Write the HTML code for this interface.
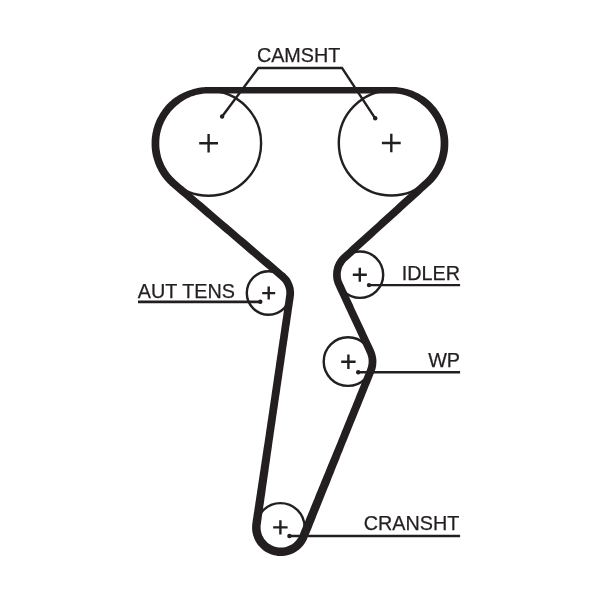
<!DOCTYPE html>
<html><head><meta charset="utf-8"><title>Timing belt diagram</title>
<style>
html,body{margin:0;padding:0;background:#fff;}
body{width:600px;height:589px;overflow:hidden;}
svg{display:block;}
text{font-family:"Liberation Sans",Arial,Helvetica,sans-serif;font-size:19.8px;fill:#231f20;stroke:#231f20;stroke-width:0.25px;}
</style></head><body>
<svg style="will-change:transform" width="600" height="589" viewBox="0 0 600 589">
<rect width="600" height="589" fill="#fff"/>
<g fill="none" stroke="#231f20" stroke-width="2.4">
<circle cx="208.6" cy="143.2" r="52.5"/>
<circle cx="391.3" cy="143.0" r="52.5"/>
<circle cx="360.0" cy="274.7" r="23.2"/>
<circle cx="348.0" cy="361.6" r="24.3"/>
<circle cx="280.4" cy="527.3" r="24.2"/>
<circle cx="268.6" cy="293.0" r="21.8"/>
</g>
<path d="M208.6 87.0L211.6 86.9L214.7 86.9L217.7 86.9L220.7 86.9L223.8 86.9L226.8 86.9L229.9 86.9L232.9 86.9L236.0 86.9L239.0 86.9L242.1 86.9L245.1 86.9L248.2 86.9L251.2 86.9L254.2 86.9L257.3 86.9L260.3 86.9L263.4 86.9L266.4 86.9L269.5 86.9L272.5 86.9L275.6 86.9L278.6 86.9L281.6 86.9L284.7 86.9L287.7 86.9L290.8 86.9L293.8 86.9L296.9 86.9L299.9 86.9L303.0 86.9L306.0 86.9L309.1 86.9L312.1 86.9L315.1 86.9L318.2 86.9L321.2 86.9L324.3 86.9L327.3 86.9L330.4 86.9L333.4 86.9L336.5 86.9L339.5 86.9L342.5 86.9L345.6 86.9L348.6 86.9L351.7 86.9L354.7 86.9L357.8 86.9L360.8 86.9L363.9 86.9L366.9 86.9L370.0 86.9L373.0 86.9L376.0 86.9L379.1 86.9L382.1 86.9L385.2 86.9L388.2 86.9L391.3 86.9L392.9 86.9L394.5 86.9L396.1 87.1L397.6 87.2L399.2 87.4L400.8 87.7L402.4 87.9L403.9 88.3L405.5 88.7L407.0 89.1L408.6 89.6L410.1 90.1L411.6 90.6L413.1 91.1L414.6 91.8L416.0 92.4L417.5 93.1L418.9 93.8L420.3 94.6L421.7 95.4L423.1 96.2L424.4 97.1L425.7 98.0L427.0 99.0L428.3 100.0L429.5 101.1L430.7 102.2L431.8 103.3L432.9 104.5L434.0 105.7L435.1 106.9L436.1 108.1L437.1 109.4L438.0 110.7L438.9 112.1L439.8 113.4L440.6 114.8L441.4 116.2L442.1 117.6L442.9 119.1L443.5 120.5L444.2 122.0L444.7 123.5L445.3 125.0L445.8 126.6L446.2 128.1L446.7 129.7L447.0 131.3L447.3 132.8L447.6 134.4L447.9 136.0L448.0 137.6L448.2 139.2L448.3 140.8L448.3 142.5L448.3 144.1L448.3 145.7L448.2 147.3L448.1 148.9L447.9 150.5L447.7 152.1L447.4 153.7L447.1 155.3L446.7 156.9L446.3 158.4L445.9 160.0L445.4 161.5L444.8 163.0L444.3 164.5L443.6 166.0L443.0 167.5L442.3 168.9L441.5 170.4L440.7 171.8L439.9 173.2L439.0 174.5L438.1 175.9L437.2 177.2L436.2 178.5L435.2 179.7L434.2 181.0L433.1 182.2L432.0 183.3L430.8 184.5L429.6 185.6L427.4 187.6L425.2 189.6L422.9 191.6L420.7 193.7L418.5 195.7L416.2 197.7L414.0 199.7L411.8 201.7L409.5 203.8L407.3 205.8L405.1 207.8L402.9 209.8L400.6 211.9L398.4 213.9L396.2 215.9L393.9 217.9L391.7 220.0L389.5 222.0L387.2 224.0L385.0 226.0L382.8 228.1L380.5 230.1L378.3 232.1L376.1 234.1L373.8 236.2L371.6 238.2L369.4 240.2L367.1 242.2L364.9 244.3L362.7 246.3L360.5 248.3L358.2 250.3L356.0 252.3L353.8 254.4L351.5 256.4L349.3 258.4L347.1 260.4L346.1 261.3L345.3 262.3L344.5 263.3L343.8 264.4L343.1 265.5L342.5 266.6L342.0 267.8L341.6 269.0L341.3 270.3L341.0 271.5L340.8 272.8L340.8 274.1L340.8 275.4L340.9 276.7L341.0 277.9L341.3 279.2L341.6 280.4L342.1 281.6L342.6 282.8L343.9 285.6L345.2 288.4L346.5 291.2L347.8 294.0L349.1 296.7L350.4 299.5L351.7 302.3L353.0 305.1L354.2 307.9L355.5 310.7L356.8 313.4L358.1 316.2L359.4 319.0L360.7 321.8L362.0 324.6L363.3 327.3L364.6 330.1L365.9 332.9L367.2 335.7L368.5 338.5L369.8 341.3L371.1 344.0L372.4 346.8L373.7 349.6L374.4 351.2L375.0 352.9L375.5 354.7L375.9 356.4L376.2 358.2L376.4 360.0L376.4 361.8L376.3 363.6L376.2 365.4L375.9 367.1L375.5 368.9L374.9 370.6L374.3 372.3L373.2 375.1L372.0 377.9L370.9 380.7L369.8 383.5L368.6 386.3L367.5 389.1L366.3 391.9L365.2 394.7L364.1 397.5L362.9 400.4L361.8 403.2L360.7 406.0L359.5 408.8L358.4 411.6L357.2 414.4L356.1 417.2L355.0 420.0L353.8 422.8L352.7 425.6L351.5 428.4L350.4 431.3L349.3 434.1L348.1 436.9L347.0 439.7L345.8 442.5L344.7 445.3L343.6 448.1L342.5 450.9L341.3 453.7L340.2 456.6L339.1 459.4L338.0 462.2L336.8 465.0L335.7 467.8L334.6 470.6L333.5 473.4L332.3 476.3L331.2 479.1L330.1 481.9L329.0 484.7L327.8 487.5L326.7 490.3L325.6 493.1L324.4 495.9L323.3 498.8L322.2 501.6L321.0 504.4L319.9 507.2L318.8 510.0L317.6 512.8L316.5 515.6L315.4 518.4L314.3 521.2L313.1 524.1L312.0 526.9L310.9 529.7L309.7 532.5L308.6 535.3L307.4 538.1L306.7 539.7L305.9 541.3L305.0 542.8L304.0 544.3L302.9 545.7L301.7 547.0L300.5 548.3L299.1 549.4L297.7 550.5L296.3 551.5L294.7 552.4L293.2 553.3L291.5 554.0L289.9 554.6L288.2 555.1L286.4 555.5L284.7 555.8L282.9 556.0L281.2 556.0L279.4 556.0L277.6 555.9L275.9 555.6L274.1 555.3L272.4 554.8L270.7 554.2L269.1 553.6L267.5 552.8L265.9 551.9L264.4 550.9L263.0 549.9L261.7 548.8L260.4 547.5L259.2 546.2L258.0 544.9L257.0 543.4L256.0 541.9L255.2 540.4L254.4 538.8L253.8 537.1L253.2 535.4L252.8 533.7L252.4 532.0L252.2 530.2L252.1 528.4L252.1 526.7L252.2 524.9L252.4 523.1L252.8 520.1L253.3 517.1L253.7 514.1L254.2 511.2L254.6 508.2L255.1 505.2L255.5 502.2L256.0 499.2L256.4 496.2L256.9 493.2L257.3 490.2L257.8 487.2L258.2 484.2L258.7 481.2L259.1 478.2L259.6 475.2L260.0 472.2L260.5 469.2L260.9 466.3L261.4 463.3L261.8 460.3L262.3 457.3L262.7 454.3L263.2 451.3L263.6 448.3L264.1 445.3L264.6 442.3L265.0 439.3L265.5 436.3L265.9 433.3L266.3 430.3L266.8 427.3L267.2 424.3L267.6 421.4L268.1 418.4L268.5 415.4L269.0 412.4L269.4 409.4L269.8 406.4L270.3 403.4L270.7 400.4L271.2 397.4L271.6 394.4L272.0 391.4L272.5 388.4L272.9 385.4L273.4 382.4L273.8 379.4L274.2 376.4L274.7 373.4L275.1 370.4L275.6 367.4L276.0 364.5L276.4 361.5L276.9 358.5L277.3 355.5L277.8 352.5L278.2 349.5L278.6 346.5L279.1 343.5L279.5 340.5L280.0 337.5L280.4 334.5L280.9 331.5L281.3 328.5L281.7 325.5L282.2 322.5L282.6 319.5L283.1 316.5L283.5 313.5L283.9 310.5L284.4 307.6L284.8 304.6L285.3 301.6L285.7 298.6L286.1 295.6L286.3 294.3L286.3 293.0L286.3 291.7L286.2 290.5L285.9 289.2L285.6 288.0L285.2 286.8L284.7 285.6L284.1 284.4L283.5 283.3L282.8 282.3L281.9 281.3L281.1 280.4L280.1 279.5L277.8 277.5L275.5 275.6L273.2 273.6L270.9 271.6L268.6 269.6L266.3 267.7L264.0 265.7L261.6 263.7L259.3 261.7L257.0 259.8L254.7 257.8L252.4 255.8L250.1 253.9L247.8 251.9L245.5 249.9L243.2 247.9L240.9 246.0L238.5 244.0L236.2 242.0L233.9 240.0L231.6 238.1L229.3 236.1L227.0 234.1L224.7 232.2L222.4 230.2L220.1 228.2L217.8 226.2L215.4 224.3L213.1 222.3L210.8 220.3L208.5 218.3L206.2 216.4L203.9 214.4L201.6 212.4L199.3 210.5L197.0 208.5L194.7 206.5L192.3 204.5L190.0 202.6L187.7 200.6L185.4 198.6L183.1 196.6L180.8 194.7L178.5 192.7L176.2 190.7L173.9 188.8L171.6 186.8L170.3 185.7L169.2 184.6L168.0 183.5L166.9 182.3L165.8 181.1L164.8 179.9L163.7 178.6L162.8 177.4L161.8 176.0L160.9 174.7L160.0 173.3L159.2 172.0L158.4 170.6L157.7 169.1L157.0 167.7L156.3 166.2L155.7 164.7L155.1 163.2L154.6 161.7L154.1 160.1L153.6 158.6L153.2 157.0L152.8 155.5L152.5 153.9L152.2 152.3L152.0 150.7L151.8 149.1L151.7 147.5L151.6 145.9L151.6 144.2L151.6 142.6L151.6 141.0L151.7 139.4L151.8 137.8L152.0 136.2L152.3 134.6L152.5 133.0L152.9 131.4L153.2 129.9L153.6 128.3L154.1 126.7L154.6 125.2L155.1 123.7L155.7 122.2L156.3 120.7L157.0 119.2L157.7 117.8L158.5 116.4L159.3 115.0L160.1 113.6L161.0 112.2L161.9 110.9L162.8 109.6L163.8 108.3L164.8 107.0L165.8 105.8L166.9 104.6L168.0 103.5L169.2 102.3L170.4 101.2L171.6 100.2L172.8 99.1L174.1 98.2L175.4 97.2L176.8 96.4L178.1 95.5L179.5 94.7L180.9 93.9L182.4 93.2L183.8 92.5L185.3 91.9L186.8 91.3L188.2 90.7L189.8 90.2L191.3 89.7L192.8 89.2L194.3 88.8L195.9 88.4L197.5 88.1L199.0 87.8L200.6 87.5L202.2 87.3L203.8 87.2L205.4 87.0L207.0 87.0ZM208.6 93.5L211.6 93.4L214.7 93.4L217.7 93.4L220.8 93.4L223.8 93.4L226.8 93.4L229.9 93.4L232.9 93.4L236.0 93.4L239.0 93.4L242.1 93.4L245.1 93.4L248.2 93.4L251.2 93.4L254.2 93.4L257.3 93.4L260.3 93.4L263.4 93.4L266.4 93.4L269.5 93.4L272.5 93.4L275.6 93.4L278.6 93.4L281.7 93.4L284.7 93.4L287.7 93.4L290.8 93.4L293.8 93.4L296.9 93.4L299.9 93.4L303.0 93.4L306.0 93.4L309.1 93.4L312.1 93.4L315.1 93.4L318.2 93.4L321.2 93.4L324.3 93.4L327.3 93.4L330.4 93.4L333.4 93.4L336.5 93.4L339.5 93.4L342.6 93.4L345.6 93.4L348.6 93.4L351.7 93.4L354.7 93.4L357.8 93.4L360.8 93.4L363.9 93.4L366.9 93.4L370.0 93.4L373.0 93.4L376.0 93.4L379.1 93.4L382.1 93.4L385.2 93.4L388.2 93.4L391.3 93.4L392.7 93.4L394.1 93.4L395.5 93.5L396.9 93.7L398.3 93.8L399.7 94.1L401.1 94.3L402.5 94.6L403.9 95.0L405.2 95.3L406.6 95.7L407.9 96.2L409.2 96.7L410.5 97.3L411.8 97.9L413.1 98.5L414.3 99.2L415.5 99.9L416.7 100.6L417.9 101.4L419.1 102.2L420.2 103.0L421.3 103.9L422.4 104.8L423.4 105.7L424.5 106.6L425.5 107.6L426.5 108.5L427.5 109.5L428.4 110.6L429.3 111.7L430.2 112.7L431.0 113.9L431.9 115.0L432.6 116.2L433.4 117.3L434.1 118.5L434.8 119.8L435.4 121.0L436.0 122.3L436.6 123.6L437.1 124.8L437.6 126.1L438.1 127.5L438.5 128.8L438.9 130.1L439.3 131.5L439.6 132.9L439.8 134.2L440.1 135.6L440.3 137.0L440.4 138.4L440.5 139.8L440.6 141.2L440.6 142.6L440.6 144.0L440.6 145.4L440.5 146.8L440.4 148.1L440.3 149.5L440.1 150.9L439.8 152.3L439.6 153.7L439.2 155.0L438.9 156.4L438.5 157.7L438.1 159.0L437.6 160.4L437.1 161.7L436.6 163.0L436.0 164.2L435.4 165.5L434.7 166.7L434.1 167.9L433.3 169.1L432.6 170.3L431.8 171.5L431.0 172.6L430.2 173.7L429.3 174.8L428.4 175.9L427.4 176.9L426.5 177.9L425.5 178.9L424.5 179.9L422.2 181.9L420.0 183.9L417.8 185.9L415.5 187.9L413.3 190.0L411.1 192.0L408.8 194.0L406.6 196.0L404.4 198.1L402.1 200.1L399.9 202.1L397.7 204.1L395.4 206.2L393.2 208.2L391.0 210.2L388.8 212.2L386.5 214.3L384.3 216.3L382.1 218.3L379.8 220.3L377.6 222.4L375.4 224.4L373.1 226.4L370.9 228.4L368.7 230.5L366.4 232.5L364.2 234.5L362.0 236.5L359.7 238.5L357.5 240.6L355.3 242.6L353.1 244.6L350.8 246.6L348.6 248.7L346.4 250.7L344.1 252.7L341.9 254.7L340.6 256.0L339.4 257.3L338.3 258.7L337.3 260.2L336.3 261.8L335.5 263.4L334.8 265.1L334.2 266.8L333.8 268.5L333.4 270.3L333.2 272.0L333.1 273.8L333.1 275.6L333.2 277.4L333.4 279.2L333.8 281.0L334.3 282.7L334.9 284.4L335.6 286.1L336.9 288.9L338.2 291.7L339.5 294.4L340.8 297.2L342.1 300.0L343.3 302.8L344.6 305.6L345.9 308.4L347.2 311.1L348.5 313.9L349.8 316.7L351.1 319.5L352.4 322.3L353.7 325.1L355.0 327.8L356.3 330.6L357.6 333.4L358.9 336.2L360.2 339.0L361.5 341.8L362.8 344.5L364.1 347.3L365.4 350.1L366.7 352.9L367.2 354.1L367.6 355.3L368.0 356.6L368.3 357.8L368.5 359.1L368.6 360.4L368.6 361.7L368.6 363.0L368.4 364.3L368.2 365.6L367.9 366.9L367.5 368.1L367.1 369.3L366.0 372.2L364.8 375.0L363.7 377.8L362.5 380.6L361.4 383.4L360.3 386.2L359.1 389.0L358.0 391.8L356.8 394.6L355.7 397.4L354.6 400.2L353.4 403.0L352.3 405.9L351.1 408.7L350.0 411.5L348.9 414.3L347.7 417.1L346.6 419.9L345.4 422.7L344.3 425.5L343.2 428.3L342.0 431.1L340.9 433.9L339.8 436.7L338.6 439.6L337.5 442.4L336.3 445.2L335.2 448.0L334.0 450.8L332.9 453.6L331.7 456.4L330.5 459.2L329.4 462.0L328.2 464.8L327.1 467.6L325.9 470.4L324.8 473.2L323.6 476.0L322.5 478.8L321.3 481.6L320.2 484.4L319.0 487.2L317.9 490.0L316.7 492.8L315.6 495.6L314.5 498.4L313.3 501.2L312.2 504.0L311.0 506.8L309.9 509.7L308.7 512.5L307.6 515.3L306.4 518.1L305.3 520.9L304.1 523.7L303.0 526.5L301.8 529.3L300.7 532.1L299.6 534.9L299.1 536.1L298.5 537.2L297.8 538.2L297.1 539.3L296.4 540.3L295.5 541.2L294.7 542.1L293.7 542.9L292.7 543.7L291.7 544.4L290.6 545.0L289.5 545.6L288.4 546.1L287.2 546.5L286.0 546.9L284.8 547.2L283.5 547.4L282.3 547.5L281.0 547.5L279.8 547.5L278.6 547.4L277.3 547.2L276.1 547.0L274.9 546.7L273.7 546.3L272.5 545.8L271.4 545.2L270.3 544.6L269.3 544.0L268.3 543.2L267.3 542.4L266.4 541.5L265.6 540.6L264.8 539.7L264.0 538.7L263.4 537.6L262.8 536.5L262.2 535.4L261.8 534.2L261.4 533.0L261.1 531.8L260.8 530.6L260.7 529.3L260.6 528.1L260.6 526.8L260.6 525.6L260.8 524.4L261.2 521.4L261.6 518.4L262.0 515.4L262.5 512.4L262.9 509.4L263.3 506.4L263.8 503.4L264.2 500.4L264.6 497.4L265.1 494.4L265.5 491.4L265.9 488.4L266.3 485.4L266.8 482.4L267.2 479.4L267.6 476.4L268.1 473.4L268.5 470.4L268.9 467.4L269.3 464.4L269.8 461.4L270.2 458.4L270.6 455.4L271.0 452.4L271.5 449.4L271.9 446.4L272.3 443.5L272.7 440.5L273.2 437.5L273.6 434.5L274.0 431.5L274.5 428.5L274.9 425.5L275.4 422.5L275.8 419.5L276.2 416.5L276.7 413.5L277.1 410.5L277.6 407.5L278.0 404.5L278.4 401.5L278.9 398.5L279.3 395.5L279.8 392.5L280.2 389.5L280.6 386.5L281.1 383.6L281.5 380.6L282.0 377.6L282.4 374.6L282.8 371.6L283.3 368.6L283.7 365.6L284.2 362.6L284.6 359.6L285.0 356.6L285.5 353.6L285.9 350.6L286.3 347.6L286.8 344.6L287.2 341.6L287.7 338.6L288.1 335.6L288.5 332.6L289.0 329.6L289.4 326.6L289.9 323.7L290.3 320.7L290.7 317.7L291.2 314.7L291.6 311.7L292.0 308.7L292.5 305.7L292.9 302.7L293.4 299.7L293.8 296.7L294.0 294.9L294.1 293.0L294.0 291.2L293.8 289.4L293.5 287.6L293.0 285.8L292.4 284.1L291.7 282.4L290.9 280.7L290.0 279.1L288.9 277.6L287.7 276.2L286.5 274.9L285.1 273.6L282.8 271.7L280.5 269.7L278.2 267.7L275.9 265.8L273.6 263.8L271.3 261.8L269.0 259.8L266.6 257.9L264.3 255.9L262.0 253.9L259.7 251.9L257.4 250.0L255.1 248.0L252.8 246.0L250.5 244.1L248.2 242.1L245.9 240.1L243.5 238.1L241.2 236.2L238.9 234.2L236.6 232.2L234.3 230.2L232.0 228.3L229.7 226.3L227.4 224.3L225.1 222.4L222.8 220.4L220.4 218.4L218.1 216.4L215.8 214.5L213.5 212.5L211.2 210.5L208.9 208.5L206.6 206.6L204.3 204.6L202.0 202.6L199.7 200.7L197.3 198.7L195.0 196.7L192.7 194.7L190.4 192.8L188.1 190.8L185.8 188.8L183.5 186.8L181.2 184.9L178.9 182.9L176.6 180.9L175.5 180.0L174.5 179.1L173.5 178.1L172.5 177.1L171.6 176.0L170.7 175.0L169.8 173.9L168.9 172.8L168.1 171.6L167.3 170.5L166.6 169.3L165.9 168.1L165.2 166.9L164.6 165.7L163.9 164.4L163.4 163.1L162.8 161.8L162.3 160.5L161.9 159.2L161.4 157.9L161.0 156.5L160.7 155.2L160.4 153.8L160.1 152.5L159.9 151.1L159.7 149.7L159.5 148.3L159.4 146.9L159.3 145.5L159.3 144.1L159.3 142.7L159.3 141.3L159.4 139.9L159.5 138.6L159.6 137.2L159.8 135.8L160.0 134.4L160.3 133.0L160.6 131.7L161.0 130.3L161.4 129.0L161.8 127.6L162.2 126.3L162.7 125.0L163.3 123.7L163.8 122.4L164.4 121.2L165.1 119.9L165.8 118.7L166.5 117.5L167.2 116.3L168.0 115.2L168.8 114.0L169.7 112.9L170.5 111.8L171.4 110.7L172.4 109.7L173.3 108.7L174.3 107.7L175.4 106.7L176.4 105.8L177.5 104.9L178.6 104.0L179.7 103.2L180.8 102.3L182.0 101.5L183.1 100.7L184.3 100.0L185.5 99.3L186.8 98.6L188.0 98.0L189.3 97.4L190.6 96.8L191.9 96.3L193.3 95.9L194.6 95.4L196.0 95.1L197.4 94.7L198.7 94.4L200.1 94.2L201.5 94.0L202.9 93.8L204.3 93.6L205.7 93.5L207.2 93.5Z" fill="#231f20" fill-rule="evenodd" stroke="none"/>
<g fill="none" stroke="#231f20" stroke-width="2.4" stroke-linecap="butt">
<path d="M199.2 143.2H218M208.6 133.9V152.5"/>
<path d="M381.9 143H400.7M391.3 133.7V152.3"/>
<path d="M352.8 274.7H366.8M359.8 267.7V281.7"/>
<path d="M341.2 361.8H355.6M348.4 354.6V369"/>
<path d="M273.2 527.4H287.6M280.4 520.2V534.6"/>
<path d="M262.2 293.1H275.2M268.7 286.6V299.6"/>
</g>
<g fill="none" stroke="#231f20" stroke-width="2.45" stroke-linejoin="miter">
<path d="M222.1 116.5L258.3 67.9H342L375.2 118.3"/>
<path d="M138 301.9H260.3" stroke-width="2.6"/>
<path d="M369 285.1H460.1"/>
<path d="M358.2 372.3H460.1"/>
<path d="M289.4 536H460.1"/>
</g>
<g fill="#231f20">
<circle cx="222.1" cy="116.5" r="2.2"/>
<circle cx="375.2" cy="118.3" r="2.2"/>
<circle cx="260.3" cy="301.8" r="2.2"/>
<circle cx="369" cy="285.1" r="2.2"/>
<circle cx="358.2" cy="372.3" r="2.2"/>
<circle cx="289.4" cy="536" r="2.2"/>
</g>
<text x="256.9" y="62.2">CAMSHT</text>
<text x="137.8" y="297.8">AUT TENS</text>
<text x="460" y="280.2" text-anchor="end">IDLER</text>
<text x="460" y="367.2" text-anchor="end">WP</text>
<text x="459.4" y="529.8" text-anchor="end">CRANSHT</text>
</svg>
</body></html>
